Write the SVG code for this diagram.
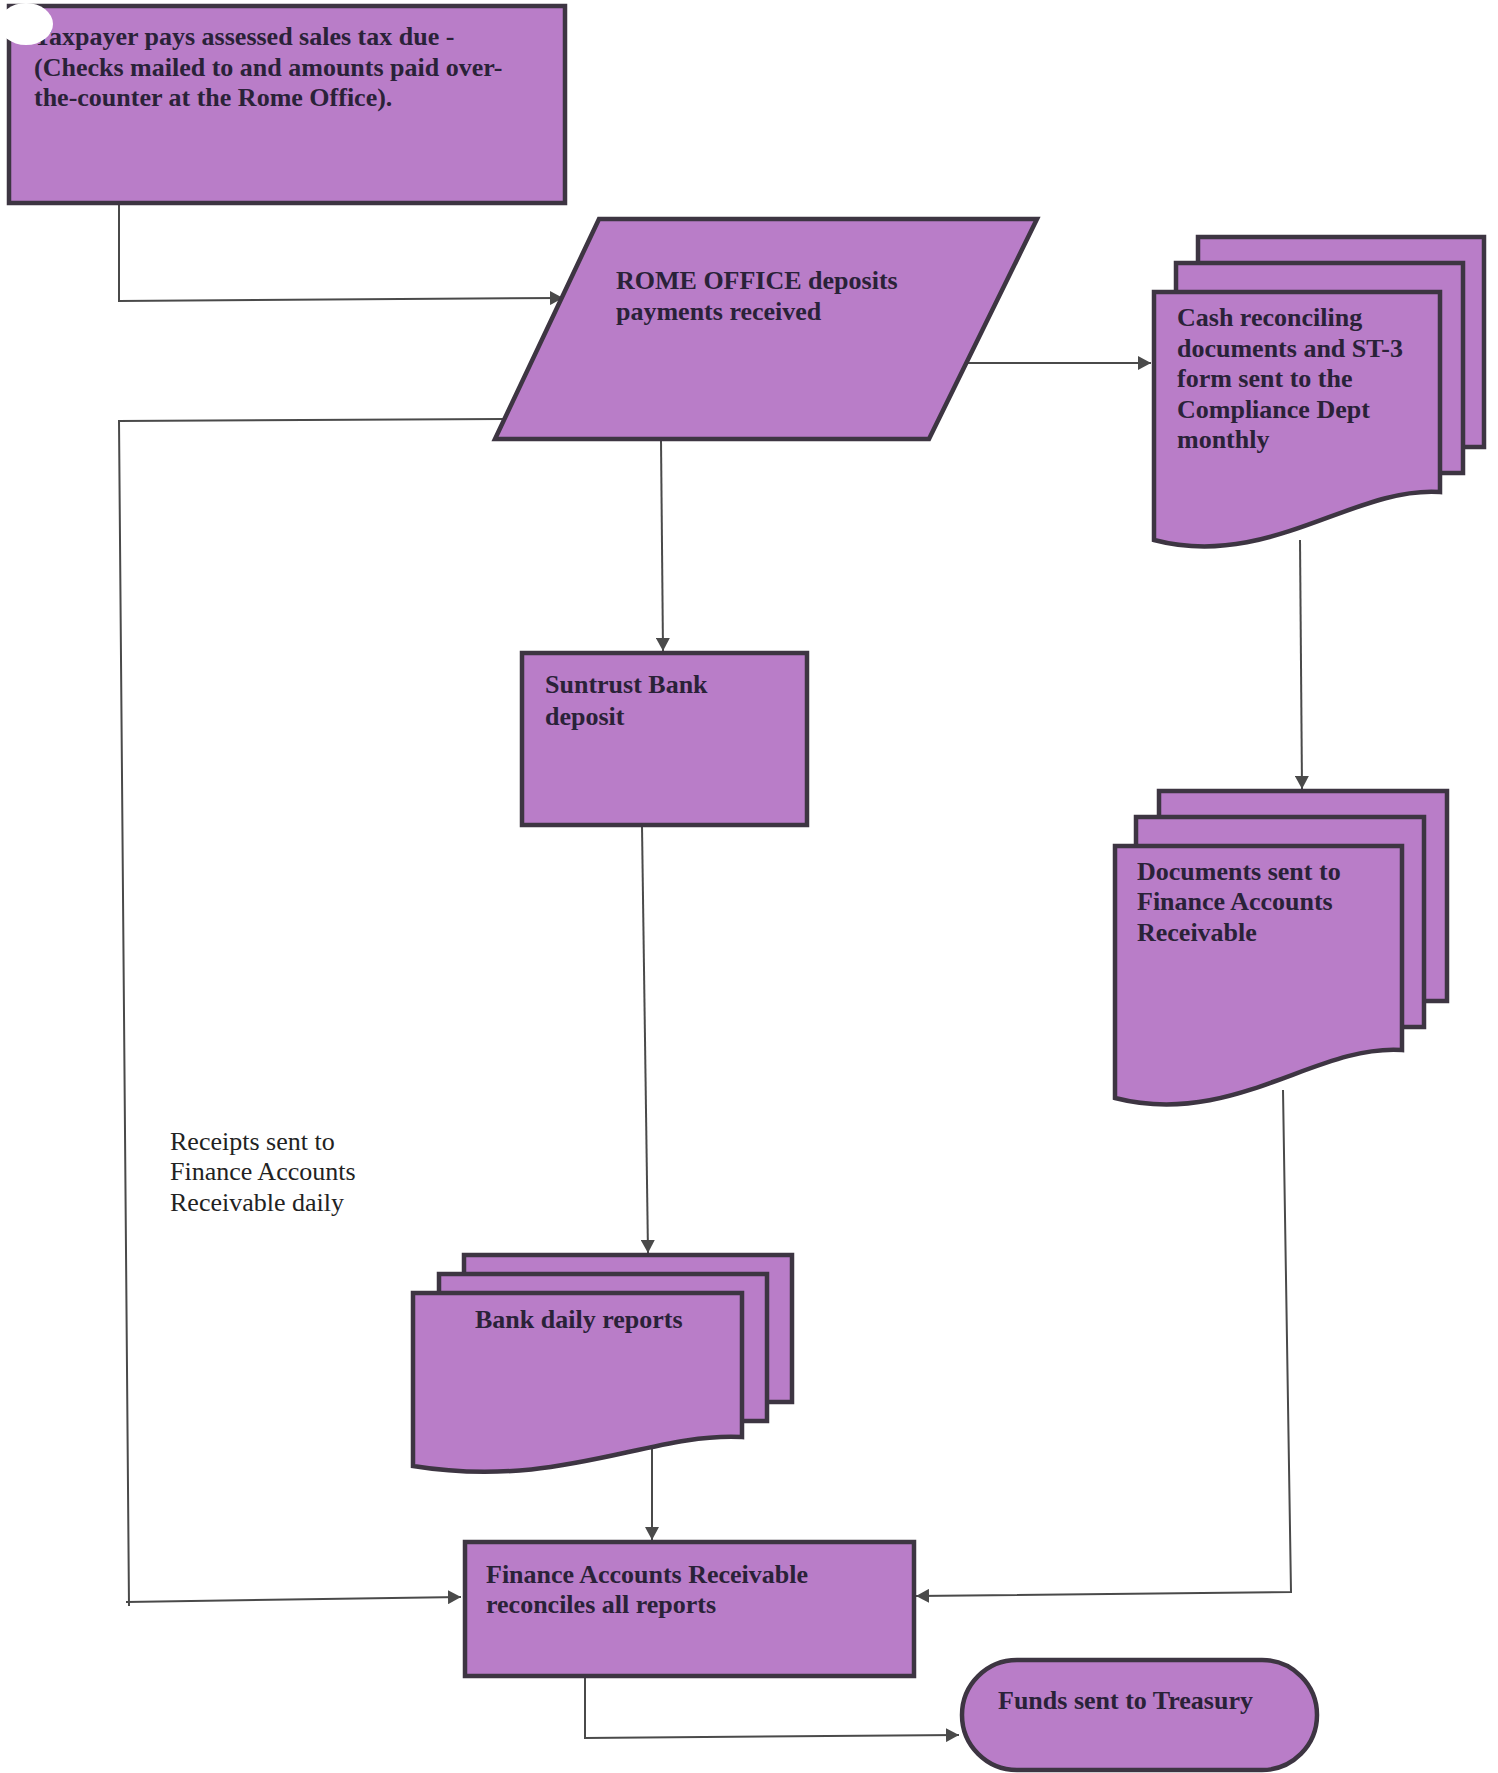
<svg xmlns="http://www.w3.org/2000/svg" width="1498" height="1773" viewBox="0 0 1498 1773">
<defs>
<style>
.shape{fill:#b97dc8;stroke:#3d3542;stroke-width:4.5;stroke-linejoin:miter}
.t{font-family:"Liberation Serif","Times New Roman",serif;font-size:26px;font-weight:bold;fill:#2a2238}
.lbl{font-family:"Liberation Serif","Times New Roman",serif;font-size:26px;fill:#222}
.conn{fill:none;stroke:#4a4a4a;stroke-width:2}
</style>
<marker id="arr" markerUnits="userSpaceOnUse" markerWidth="14" markerHeight="14" refX="13" refY="7" orient="auto">
<path d="M0,0 L13,7 L0,14 z" fill="#4a4a4a"/>
</marker>
</defs>
<rect width="1498" height="1773" fill="#ffffff"/>

<g id="connectors">
<polyline class="conn" points="119,203 119,301 563,298" marker-end="url(#arr)"/>
<polyline class="conn" points="503,419 119,421 129,1606"/>
<line class="conn" x1="126" y1="1602" x2="461" y2="1597" marker-end="url(#arr)"/>
<line class="conn" x1="661" y1="440" x2="663" y2="651" marker-end="url(#arr)"/>
<line class="conn" x1="966" y1="363" x2="1151" y2="363" marker-end="url(#arr)"/>
<line class="conn" x1="642" y1="826" x2="648" y2="1253" marker-end="url(#arr)"/>
<line class="conn" x1="1300" y1="540" x2="1302" y2="789" marker-end="url(#arr)"/>
<line class="conn" x1="652" y1="1440" x2="652" y2="1540" marker-end="url(#arr)"/>
<polyline class="conn" points="1283,1090 1291,1592 916,1596" marker-end="url(#arr)"/>
<polyline class="conn" points="585,1676 585,1738 959,1735" marker-end="url(#arr)"/>
</g>

<g id="taxpayer">
<rect class="shape" x="9" y="6" width="556" height="197"/>
<text class="t" x="34" y="45">Taxpayer pays assessed sales tax due -</text>
<text class="t" x="34" y="76">(Checks mailed to and amounts paid over-</text>
<text class="t" x="34" y="106">the-counter at the Rome Office).</text>
<ellipse cx="26" cy="24" rx="27" ry="21" fill="#ffffff"/>
</g>

<g id="rome-office">
<polygon class="shape" points="599,219 1037,219 929,439 495,439"/>
<text class="t" x="616" y="289">ROME OFFICE deposits</text>
<text class="t" x="616" y="320">payments received</text>
</g>

<g id="cash-docs">
<rect class="shape" x="1198" y="237" width="286" height="210"/>
<rect class="shape" x="1176" y="263" width="287" height="210"/>
<path class="shape" d="M1154,292 H1440 V492 C1354,486 1268,570 1154,540 Z"/>
<text class="t" x="1177" y="326">Cash reconciling</text>
<text class="t" x="1177" y="357">documents and ST-3</text>
<text class="t" x="1177" y="387">form sent to the</text>
<text class="t" x="1177" y="418">Compliance Dept</text>
<text class="t" x="1177" y="448">monthly</text>
</g>

<g id="suntrust">
<rect class="shape" x="522" y="653" width="285" height="172"/>
<text class="t" x="545" y="693">Suntrust Bank</text>
<text class="t" x="545" y="725">deposit</text>
</g>

<g id="documents-sent">
<rect class="shape" x="1159" y="791" width="288" height="210"/>
<rect class="shape" x="1136" y="817" width="288" height="210"/>
<path class="shape" d="M1115,846 H1402 V1050 C1316,1044 1232,1128 1115,1098 Z"/>
<text class="t" x="1137" y="880">Documents sent to</text>
<text class="t" x="1137" y="910">Finance Accounts</text>
<text class="t" x="1137" y="941">Receivable</text>
</g>

<g id="receipts-label">
<text class="lbl" x="170" y="1150">Receipts sent to</text>
<text class="lbl" x="170" y="1180">Finance Accounts</text>
<text class="lbl" x="170" y="1211">Receivable daily</text>
</g>

<g id="bank-reports">
<rect class="shape" x="464" y="1255" width="328" height="147"/>
<rect class="shape" x="439" y="1274" width="328" height="147"/>
<path class="shape" d="M413,1293 H742 V1437 C650,1432 560,1490 413,1466 Z"/>
<text class="t" x="475" y="1328">Bank daily reports</text>
</g>

<g id="finance-ar">
<rect class="shape" x="465" y="1542" width="449" height="134"/>
<text class="t" x="486" y="1583">Finance Accounts Receivable</text>
<text class="t" x="486" y="1613">reconciles all reports</text>
</g>

<g id="treasury">
<rect class="shape" x="962" y="1660" width="355" height="110" rx="55" ry="55"/>
<text class="t" x="998" y="1709">Funds sent to Treasury</text>
</g>
</svg>
